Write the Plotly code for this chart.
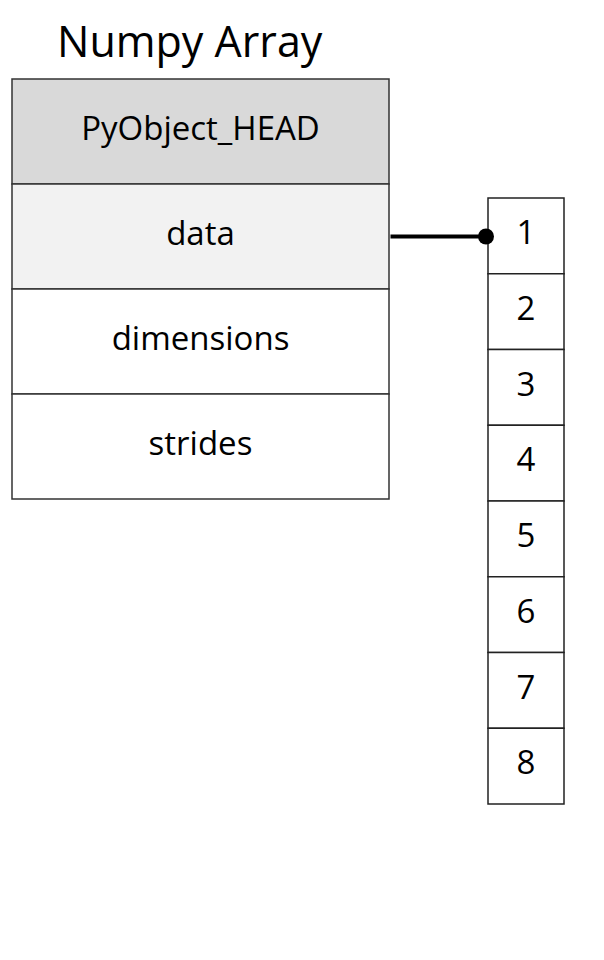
import plotly.graph_objects as go

title = "Numpy Array"
fields = ["PyObject_HEAD", "data", "dimensions", "strides"]
field_fills = ["#d9d9d9", "#f2f2f2", "#ffffff", "#ffffff"]
array_values = [1, 2, 3, 4, 5, 6, 7, 8]

W, H = 604, 960
OFF = 8  # page body margin
sx0, sx1, sy0, rh = 12, 389, 79, 105
ax0, ax1, ay0, ah = 488, 564, 198, 75.75

fig = go.Figure()
shapes = []
for i, (f, c) in enumerate(zip(fields, field_fills)):
    y0 = sy0 + i * rh
    shapes.append(dict(type="rect", x0=sx0, x1=sx1, y0=y0, y1=y0 + rh,
                       fillcolor=c, line=dict(color="#333", width=1.5), layer="below"))
for i, v in enumerate(array_values):
    y0 = ay0 + i * ah
    shapes.append(dict(type="rect", x0=ax0, x1=ax1, y0=y0, y1=y0 + ah,
                       fillcolor="white", line=dict(color="#222", width=1.5), layer="below"))

fig.add_trace(go.Scatter(
    x=[(sx0 + sx1) / 2] * len(fields),
    y=[sy0 + rh * (i + 0.5) for i in range(len(fields))],
    text=fields, mode="text", textfont=dict(size=33, color="black", family="Open Sans"),
    hoverinfo="skip"))
fig.add_trace(go.Scatter(
    x=[(ax0 + ax1) / 2] * len(array_values),
    y=[ay0 + ah * (i + 0.5) for i in range(len(array_values))],
    text=[str(v) for v in array_values], mode="text",
    textfont=dict(size=33, color="black", family="Open Sans"), hoverinfo="skip"))

fig.add_annotation(x=190, y=40, text=title, showarrow=False,
                   font=dict(size=43, color="black", family="Open Sans"))
data_y = sy0 + rh * 1.5
fig.add_annotation(x=ax0 - 2, y=data_y, ax=sx1, ay=data_y, xref="x", yref="y",
                   axref="x", ayref="y", text="", showarrow=True,
                   arrowhead=6, arrowsize=1, arrowwidth=4, arrowcolor="black")

fig.update_layout(width=W, height=H, margin=dict(l=0, r=0, t=0, b=0),
                  plot_bgcolor="white", paper_bgcolor="white", showlegend=False,
                  shapes=shapes,
                  xaxis=dict(range=[OFF, W + OFF], visible=False, fixedrange=True),
                  yaxis=dict(range=[H + OFF, OFF], visible=False, fixedrange=True))
fig.write_html("out.html")
